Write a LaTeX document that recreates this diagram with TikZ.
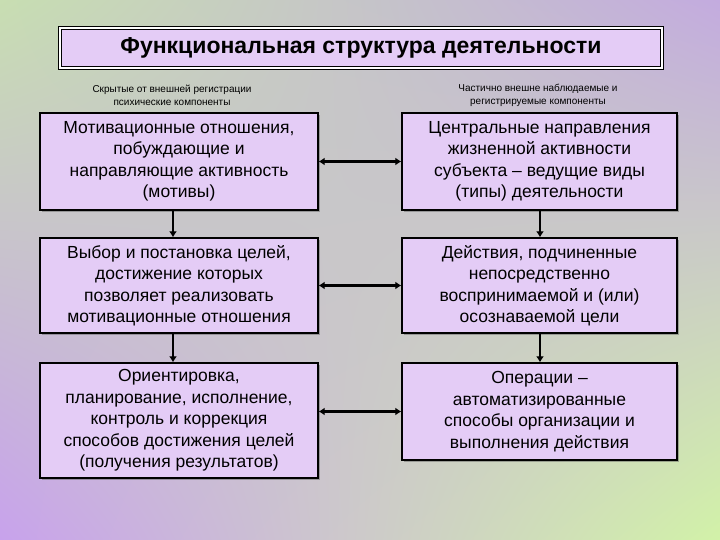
\documentclass[tikz,border=0pt]{standalone}
\usepackage{fontspec}
\setmainfont{Liberation Sans}
\usetikzlibrary{arrows.meta,shadows,shadings}
\definecolor{boxfill}{HTML}{E4CCF6}
\definecolor{bgpurple}{HTML}{C8A2EC}
\definecolor{bggreen}{HTML}{D2F2A8}
\definecolor{bggray}{HTML}{B8C0C0}
\tikzset{
  x=1pt,y=-1pt,
  box/.style={draw=black,line width=1.3pt,fill=boxfill,align=center,font=\fontsize{17.5}{21.5}\selectfont,inner sep=1pt,
    drop shadow={shadow xshift=2pt,shadow yshift=-2pt,fill=black!60}},
  note/.style={align=center,font=\fontsize{10}{13}\selectfont},
  harr/.style={line width=2.5pt,{Latex[length=6pt,width=8pt]}-{Latex[length=6pt,width=8pt]}},
  varr/.style={line width=2.5pt,-{Latex[length=6pt,width=8pt]}}
}
\begin{document}
\begin{tikzpicture}
\useasboundingbox (0,0) rectangle (720,540);
\shade[lower left=bgpurple,lower right=bggreen,upper right=bgpurple!70!bggray,upper left=bggreen!60!bggray] (0,0) rectangle (720,540);
\node[draw,line width=1pt,fill=boxfill,minimum width=602pt,minimum height=40pt,double,double distance=2pt,font=\bfseries\fontsize{23}{27}\selectfont] (title) at (361,48) {Функциональная структура деятельности};
\node[note] (nl) at (172,95) {Скрытые от внешней регистрации\\психические компоненты};
\node[note] (nr) at (538,95) {Частично внешне наблюдаемые и\\регистрируемые компоненты};
\node[box,minimum width=278pt,minimum height=97pt] (l1) at (179,161.5) {Мотивационные отношения,\\побуждающие и\\направляющие активность\\(мотивы)};
\node[box,minimum width=278pt,minimum height=95pt] (l2) at (179,285.5) {Выбор и постановка целей,\\достижение которых\\позволяет реализовать\\мотивационные отношения};
\node[box,minimum width=278pt,minimum height=115pt] (l3) at (179,420.5) {Ориентировка,\\планирование, исполнение,\\контроль и коррекция\\способов достижения целей\\(получения результатов)};
\node[box,minimum width=275pt,minimum height=97pt] (r1) at (539.5,161.5) {Центральные направления\\жизненной активности\\субъекта – ведущие виды\\(типы) деятельности};
\node[box,minimum width=275pt,minimum height=95pt] (r2) at (539.5,285.5) {Действия, подчиненные\\непосредственно\\воспринимаемой и (или)\\осознаваемой цели};
\node[box,minimum width=275pt,minimum height=97pt] (r3) at (539.5,411.5) {Операции –\\автоматизированные\\способы организации и\\выполнения действия};
\draw[harr] (l1.east) -- (r1.west);
\draw[harr] (l2.east) -- (r2.west);
\draw[harr] (l3.east|-r3.west) -- (r3.west);
\draw[varr] (173,210) -- (l2.north-|173,0);
\draw[varr] (173,333) -- (l3.north-|173,0);
\draw[varr] (540,210) -- (r2.north-|540,0);
\draw[varr] (540,333) -- (r3.north-|540,0);
\end{tikzpicture}
\end{document}
